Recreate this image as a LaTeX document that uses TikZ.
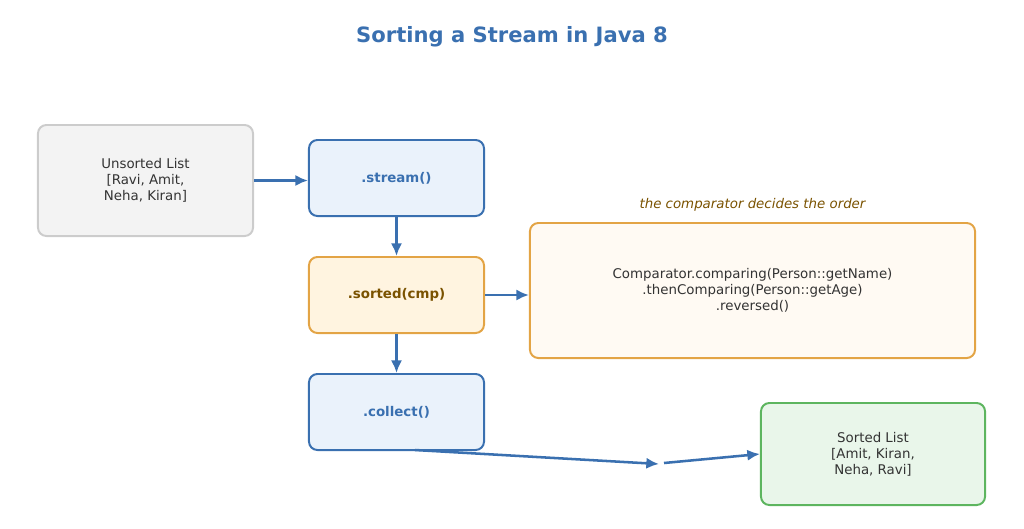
\documentclass[tikz,border=0pt]{standalone}
\usepackage{fontspec}
\setmainfont{DejaVu Sans}
\usepackage{tikz}
\usetikzlibrary{positioning,arrows.meta,calc}
\definecolor{bluedge}{HTML}{3A70B0}
\definecolor{bluefill}{HTML}{EAF2FB}
\definecolor{orgedge}{HTML}{E3A445}
\definecolor{orgfill}{HTML}{FFF4E0}
\definecolor{cmpfill}{HTML}{FFFAF3}
\definecolor{greyedge}{HTML}{CCCCCC}
\definecolor{greyfill}{HTML}{F3F3F3}
\definecolor{grnedge}{HTML}{5DB55F}
\definecolor{grnfill}{HTML}{E9F6EA}
\definecolor{brown}{HTML}{7A5200}
\definecolor{txt}{HTML}{333333}
\begin{document}
\begin{tikzpicture}[
            x=0.025cm, y=-0.025cm,
            % Style for the boxes
            box/.style={
                rounded corners=6pt,
                line width=1.4pt,
                align=center,
                font=\fontsize{9.5}{11.5}\selectfont,
                text=txt
            },
            op/.style={
                box,
                draw=bluedge,
                fill=bluefill,
                minimum width=4.375cm,
                minimum height=1.9cm,
                text=bluedge,
                font=\fontsize{9.5}{11.5}\selectfont\bfseries
            },
            % Style for the arrows
            link/.style={-{Latex[length=9pt,width=8pt]}, line width=1.8pt, draw=bluedge, color=bluedge}
        ]
            \useasboundingbox (0,0) rectangle (1024,528);
            \node[text=bluedge, font=\fontsize{15}{17}\selectfont\bfseries] (title) at (512,37) {Sorting a Stream in Java 8};

            % input list
            \node[box, draw=greyedge, fill=greyfill, minimum width=5.375cm, minimum height=2.775cm] (unsorted) at (145.5,180.5) {Unsorted List\\{}[Ravi, Amit,\\Neha, Kiran]};

            % pipeline
            \node[op] (stream) at (396.5,178) {.stream()};
            \node[op, draw=orgedge, fill=orgfill, text=brown] (sorted) at (396.5,295) {.sorted(cmp)};
            \node[op] (collect) at (396.5,412) {.collect()};

            % comparator
            \node[box, draw=orgedge, fill=cmpfill, minimum width=11.125cm, minimum height=3.375cm] (cmp) at (752.5,290.5) {Comparator.comparing(Person::getName)\\.thenComparing(Person::getAge)\\.reversed()};
            \node[text=brown, font=\fontsize{9.5}{11.5}\selectfont\itshape] (note) at (752.5,205) {the comparator decides the order};

            % result
            \node[box, draw=grnedge, fill=grnfill, minimum width=5.6cm, minimum height=2.55cm] (result) at (873,454) {Sorted List\\{}[Amit, Kiran,\\Neha, Ravi]};

            % connectors
            \coordinate (c1) at (415,450);
            \coordinate (mid1) at (659,464);
            \coordinate (mid2) at (664,463);
            \draw[link] (unsorted.east) -- (stream.west |- unsorted.east);
            \draw[link] (stream) -- (sorted);
            \draw[link] (sorted.east) -- (cmp.west |- sorted.east);
            \draw[link] (sorted) -- (collect);
            \draw[link] (c1) -- (mid1);
            \draw[link] (mid2) -- (result.west);
        \end{tikzpicture}
\end{document}
